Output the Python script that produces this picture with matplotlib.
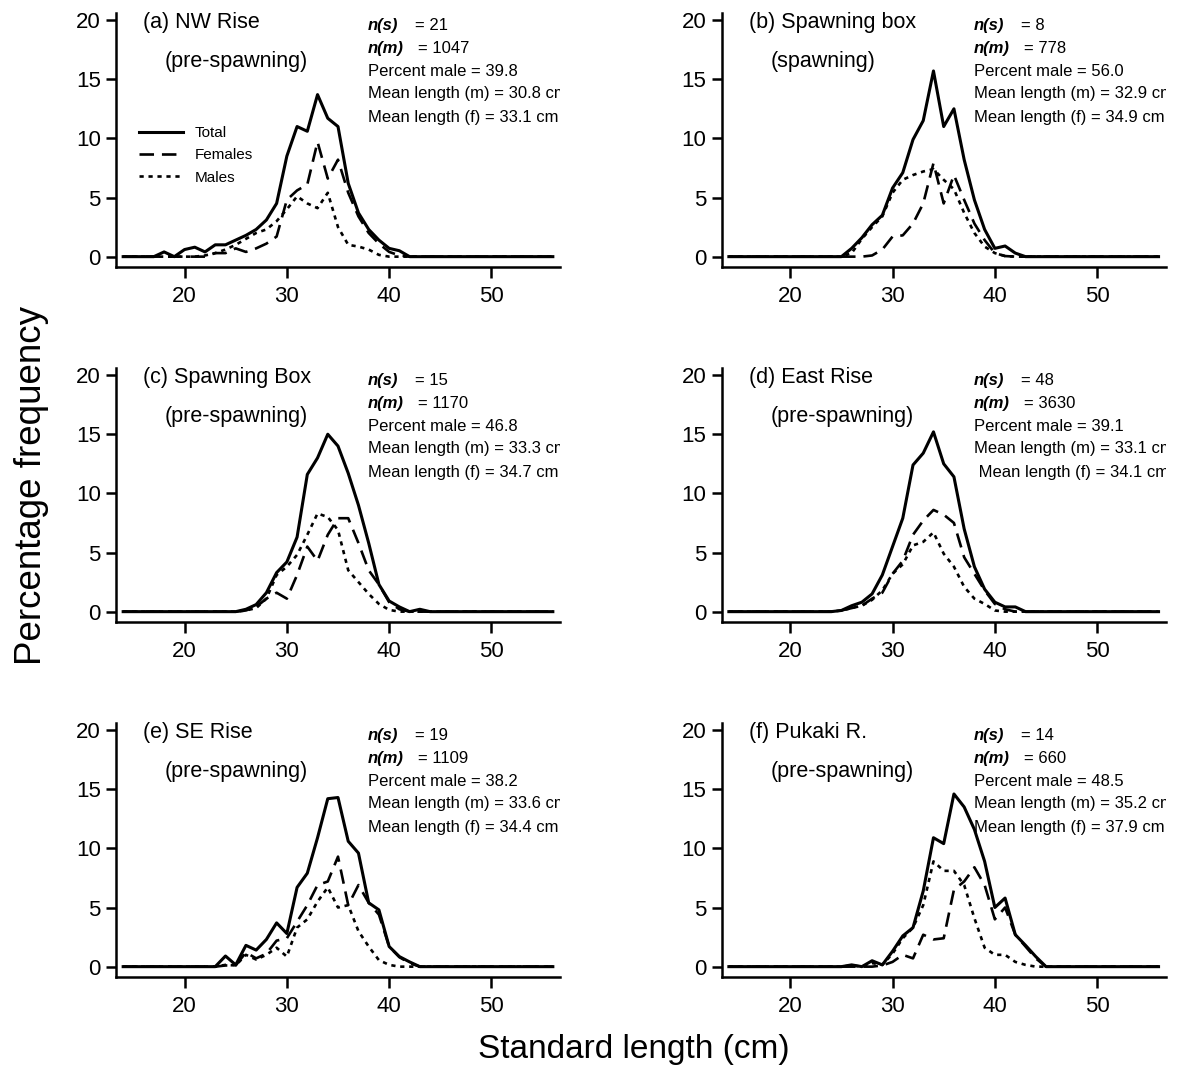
import numpy as np
import matplotlib
matplotlib.use("Agg")
import matplotlib.pyplot as plt

plt.rcParams['font.family'] = ['Liberation Sans', 'DejaVu Sans']

# lengths 14..56 cm, values read between 17 and 45 cm (zero outside)
lengths = np.arange(14, 57)
win_start = 17

# panel (a) NW Rise
a_total = [0, 0.4, 0, 0.6, 0.8, 0.4, 1.0, 1.0, 1.4, 1.8, 2.3, 3.1, 4.5, 8.5, 11.0, 10.6, 13.7,
           11.7, 11.0, 6.2, 3.7, 2.3, 1.4, 0.7, 0.5, 0, 0, 0, 0]
a_fem = [0, 0, 0, 0, 0, 0, 0.3, 0.3, 0.7, 0.4, 0.7, 1.1, 1.7, 4.8, 5.6, 6.1, 9.7,
         6.6, 8.2, 5.4, 3.4, 2.0, 1.1, 0.4, 0.1, 0, 0, 0, 0]
a_male = [0, 0, 0, 0, 0, 0.1, 0.3, 0.6, 1.0, 1.5, 2.0, 2.3, 3.0, 4.0, 5.1, 4.5, 4.1,
          5.4, 2.5, 1.0, 0.85, 0.6, 0.15, 0, 0, 0, 0, 0, 0]
# panel (b) Spawning box (spawning)
b_total = [0, 0, 0, 0, 0, 0, 0, 0, 0, 0.7, 1.6, 2.7, 3.5, 5.8, 7.1, 9.9, 11.5,
           15.7, 11.0, 12.5, 8.2, 4.8, 2.3, 0.7, 0.9, 0.3, 0, 0, 0]
b_fem = [0, 0, 0, 0, 0, 0, 0, 0, 0, 0, 0, 0.1, 0.6, 1.7, 1.8, 2.8, 4.5,
         7.9, 4.5, 6.9, 4.8, 2.8, 1.4, 0.3, 0.05, 0, 0, 0, 0]
b_male = [0, 0, 0, 0, 0, 0, 0, 0, 0, 0.3, 1.5, 2.5, 3.4, 5.4, 6.5, 6.9, 7.2,
          7.4, 6.5, 5.7, 3.7, 2.0, 0.85, 0.3, 0.05, 0, 0, 0, 0]
# panel (c) Spawning Box (pre-spawning)
c_total = [0, 0, 0, 0, 0, 0, 0, 0, 0, 0.2, 0.6, 1.6, 3.3, 4.2, 6.3, 11.6, 13.0,
           15.0, 14.0, 11.7, 9.0, 5.8, 2.3, 0.9, 0.4, 0, 0.2, 0, 0]
c_fem = [0, 0, 0, 0, 0, 0, 0, 0, 0, 0.1, 0.4, 1.1, 1.6, 1.1, 3.1, 5.5, 4.3,
         6.5, 7.9, 7.9, 5.8, 3.5, 2.3, 0.8, 0.2, 0, 0, 0, 0]
c_male = [0, 0, 0, 0, 0, 0, 0, 0, 0, 0.1, 0.3, 1.1, 3.1, 3.8, 4.8, 6.5, 8.3,
          8.0, 6.9, 3.5, 2.5, 1.5, 0.65, 0.15, 0, 0, 0, 0, 0]
# panel (d) East Rise
d_total = [0, 0, 0, 0, 0, 0, 0, 0, 0.1, 0.5, 0.8, 1.5, 3.1, 5.5, 7.9, 12.4, 13.4,
           15.2, 12.5, 11.4, 7.0, 3.8, 1.9, 0.8, 0.4, 0.4, 0, 0, 0]
d_fem = [0, 0, 0, 0, 0, 0, 0, 0, 0.1, 0.3, 0.5, 1.1, 1.6, 3.2, 4.3, 6.5, 7.7,
         8.6, 8.2, 7.5, 4.6, 3.2, 1.8, 0.65, 0.2, 0, 0, 0, 0]
d_male = [0, 0, 0, 0, 0, 0, 0, 0, 0.1, 0.3, 0.5, 1.0, 1.8, 3.2, 4.0, 5.6, 5.9,
          6.7, 4.9, 3.8, 2.1, 1.1, 0.65, 0.1, 0, 0, 0, 0, 0]
# panel (e) SE Rise
e_total = [0, 0, 0, 0, 0, 0, 0, 0.9, 0.15, 1.8, 1.4, 2.3, 3.7, 2.8, 6.7, 7.9, 10.9,
           14.2, 14.3, 10.6, 9.6, 5.4, 4.8, 1.7, 0.85, 0.4, 0, 0, 0]
e_fem = [0, 0, 0, 0, 0, 0, 0, 0.1, 0.1, 1.2, 0.7, 1.1, 2.2, 2.4, 3.8, 5.2, 6.9,
         7.2, 9.3, 5.2, 6.9, 5.4, 4.4, 1.7, 0.8, 0.3, 0, 0, 0]
e_male = [0, 0, 0, 0, 0, 0, 0, 0.15, 0.1, 1.0, 0.6, 1.0, 1.6, 0.85, 3.3, 4.0, 5.5,
          6.7, 5.0, 5.2, 3.0, 1.7, 0.55, 0.15, 0, 0, 0, 0, 0]
# panel (f) Pukaki R.
f_total = [0, 0, 0, 0, 0, 0, 0, 0, 0, 0.15, 0, 0.5, 0.15, 1.3, 2.6, 3.3, 6.4,
           10.9, 10.4, 14.6, 13.5, 11.6, 8.9, 5.0, 5.8, 2.7, 1.8, 0.85, 0]
f_fem = [0, 0, 0, 0, 0, 0, 0, 0, 0, 0, 0, 0, 0.1, 0.4, 1.0, 0.7, 2.7,
         2.3, 2.4, 6.5, 7.2, 8.4, 6.9, 4.0, 5.0, 2.7, 1.7, 0.7, 0]
f_male = [0, 0, 0, 0, 0, 0, 0, 0, 0, 0.1, 0, 0.3, 0.15, 1.1, 2.4, 3.3, 5.2,
          8.9, 8.1, 8.1, 6.9, 4.1, 1.6, 1.0, 1.0, 0.4, 0.15, 0, 0]

titles = ['(a) NW Rise', '(b) Spawning box', '(c) Spawning Box',
          '(d) East Rise', '(e) SE Rise', '(f) Pukaki R.']
phases = ['(pre-spawning)', '(spawning)', '(pre-spawning)',
          '(pre-spawning)', '(pre-spawning)', '(pre-spawning)']
n_s = ['21', '8', '15', '48', '19', '14']
n_m = ['1047', '778', '1170', '3630', '1109', '660']
pct_male = ['39.8', '56.0', '46.8', '39.1', '38.2', '48.5']
mean_m = ['30.8', '32.9', '33.3', '33.1', '33.6', '35.2']
mean_f = ['33.1', '34.9', '34.7', '34.1', '34.4', '37.9']

series = [(a_total, a_fem, a_male), (b_total, b_fem, b_male), (c_total, c_fem, c_male),
          (d_total, d_fem, d_male), (e_total, e_fem, e_male), (f_total, f_fem, f_male)]


def pad(vals):
    out = np.zeros(len(lengths))
    i0 = win_start - lengths[0]
    out[i0:i0 + len(vals)] = vals
    return out


W, H = 1179, 1090
fig = plt.figure(figsize=(W / 100, H / 100), dpi=100)

lefts = [116, 721.7]
bottoms = [266.7, 621.7, 976.7]
ax_w, ax_h = 444, 253.7

narrow = ['Liberation Sans Narrow', 'Liberation Sans', 'DejaVu Sans']
fs = 12

for k in range(6):
    row, col = k // 2, k % 2
    ax = fig.add_axes([lefts[col] / W, 1 - bottoms[row] / H, ax_w / W, ax_h / H])
    tot, fem, mal = series[k]
    ax.plot(lengths, pad(mal), color='black', lw=1.9, ls=(0, (1.6, 1.8)), label='Males', zorder=2)
    ax.plot(lengths, pad(fem), color='black', lw=1.9, ls=(0, (5.5, 3)), label='Females', zorder=3)
    ax.plot(lengths, pad(tot), color='black', lw=2.2, ls='-', label='Total', zorder=4)

    ax.set_xlim(13.3, 56.7)
    ax.set_ylim(-0.85, 20.6)
    ax.set_xticks([20, 30, 40, 50])
    ax.set_yticks([0, 5, 10, 15, 20])
    ax.spines['top'].set_visible(False)
    ax.spines['right'].set_visible(False)
    for s in ['left', 'bottom']:
        ax.spines[s].set_linewidth(1.8)
    ax.tick_params(axis='both', direction='out', width=1.8, labelsize=16)
    ax.tick_params(axis='y', length=7, pad=4)
    ax.tick_params(axis='x', length=8, pad=6)

    ax.text(0.061, 0.962, titles[k], transform=ax.transAxes, fontsize=15.5,
            ha='left', va='center')
    ax.text(0.11, 0.808, phases[k], transform=ax.transAxes, fontsize=15.5,
            ha='left', va='center')

    # stats block, clipped at the right edge of the axes like the original
    x0 = 0.568
    ys = [0.952, 0.861, 0.77, 0.681, 0.59]
    ax.text(x0, ys[0], 'n(s)', transform=ax.transAxes, fontsize=fs,
            fontweight='bold', fontstyle='italic', va='center', family=narrow)
    ax.text(x0 + 0.105, ys[0], '= ' + n_s[k], transform=ax.transAxes, fontsize=fs,
            va='center', family=narrow)
    ax.text(x0, ys[1], 'n(m)', transform=ax.transAxes, fontsize=fs,
            fontweight='bold', fontstyle='italic', va='center', family=narrow)
    ax.text(x0 + 0.112, ys[1], '= ' + n_m[k], transform=ax.transAxes, fontsize=fs,
            va='center', family=narrow)
    ax.text(x0, ys[2], 'Percent male = ' + pct_male[k], transform=ax.transAxes,
            fontsize=fs, va='center', family=narrow)
    ax.text(x0, ys[3], 'Mean length (m) = ' + mean_m[k] + ' cm', transform=ax.transAxes,
            fontsize=fs, va='center', family=narrow, clip_on=True)
    lead = ' ' if k == 3 else ''
    ax.text(x0, ys[4], lead + 'Mean length (f) = ' + mean_f[k] + ' cm', transform=ax.transAxes,
            fontsize=fs, va='center', family=narrow, clip_on=True)

    if k == 0:
        h, l = ax.get_legend_handles_labels()
        ax.legend(h[::-1], l[::-1], loc='upper left', bbox_to_anchor=(0.035, 0.585),
                  frameon=False, fontsize=11, handlelength=2.9, handletextpad=0.75,
                  labelspacing=0.55, borderpad=0)

fig.text(0.027, 0.555, 'Percentage frequency', rotation=90, fontsize=26.5,
         ha='center', va='center')
fig.text(0.538, 0.037, 'Standard length (cm)', fontsize=24, ha='center', va='center')

fig.savefig('out.png', dpi=100)
